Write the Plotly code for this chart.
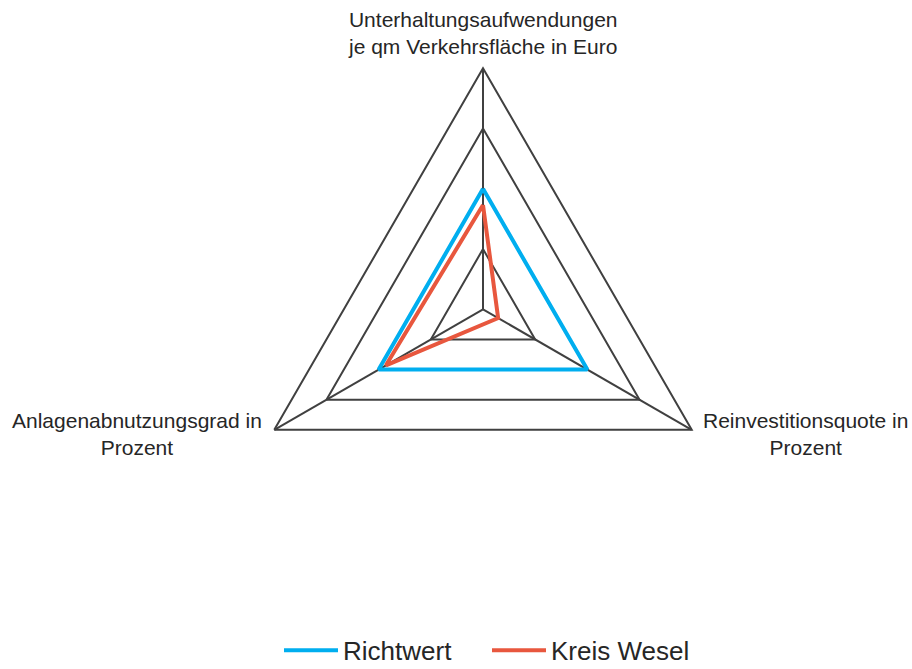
import plotly.graph_objects as go

categories = [
    "Unterhaltungsaufwendungen<br>je qm Verkehrsfläche in Euro",
    "Reinvestitionsquote in<br>Prozent",
    "Anlagenabnutzungsgrad in<br>Prozent",
]
richtwert = [2.0, 2.0, 2.0]
kreis_wesel = [1.73, 0.29, 1.86]

grid_color = "#404040"
font = "Liberation Sans, Arial, sans-serif"

W, H = 912, 669

fig = go.Figure()
fig.add_trace(go.Scatterpolar(
    r=richtwert + richtwert[:1], theta=categories + categories[:1],
    mode="lines", name="Richtwert",
    line=dict(color="#00AEEF", width=4),
))
fig.add_trace(go.Scatterpolar(
    r=kreis_wesel + kreis_wesel[:1], theta=categories + categories[:1],
    mode="lines", name="Kreis Wesel",
    line=dict(color="#E8573E", width=4),
))

# category labels placed like the original (centred multi-line text)
label_pos = [(483, 33), (805, 434), (137, 434)]
for text, (px_, py_) in zip(categories, label_pos):
    fig.add_annotation(
        text=text, xref="paper", yref="paper",
        x=px_ / W, y=1 - py_ / H, xanchor="center", yanchor="middle",
        showarrow=False, align="center",
        font=dict(family=font, size=21, color="#262626"),
    )

fig.update_layout(
    width=W, height=H,
    margin=dict(l=0, r=0, t=0, b=0, autoexpand=False),
    paper_bgcolor="white", plot_bgcolor="white",
    font=dict(family=font, color="#262626"),
    polar=dict(
        domain=dict(x=[242 / W, 724 / W], y=[118.7 / H, 600.7 / H]),
        bgcolor="white",
        gridshape="linear",
        radialaxis=dict(range=[0, 4], dtick=1, showticklabels=False, ticks="",
                        showline=False, gridcolor=grid_color, gridwidth=2),
        angularaxis=dict(direction="clockwise", rotation=90, showticklabels=False,
                         ticks="", showline=True, linecolor=grid_color, linewidth=2,
                         gridcolor=grid_color, gridwidth=2),
    ),
    legend=dict(orientation="h", x=279 / W, xanchor="left", y=0.028,
                yanchor="middle", itemwidth=54,
                entrywidth=139, entrywidthmode="pixels",
                font=dict(family=font, size=26, color="#262626")),
)

# drop the default 8px page margin so the figure fills the window
fig.write_html("out.html", config={"displayModeBar": False},
               post_script="document.body.style.margin = '0px';")
